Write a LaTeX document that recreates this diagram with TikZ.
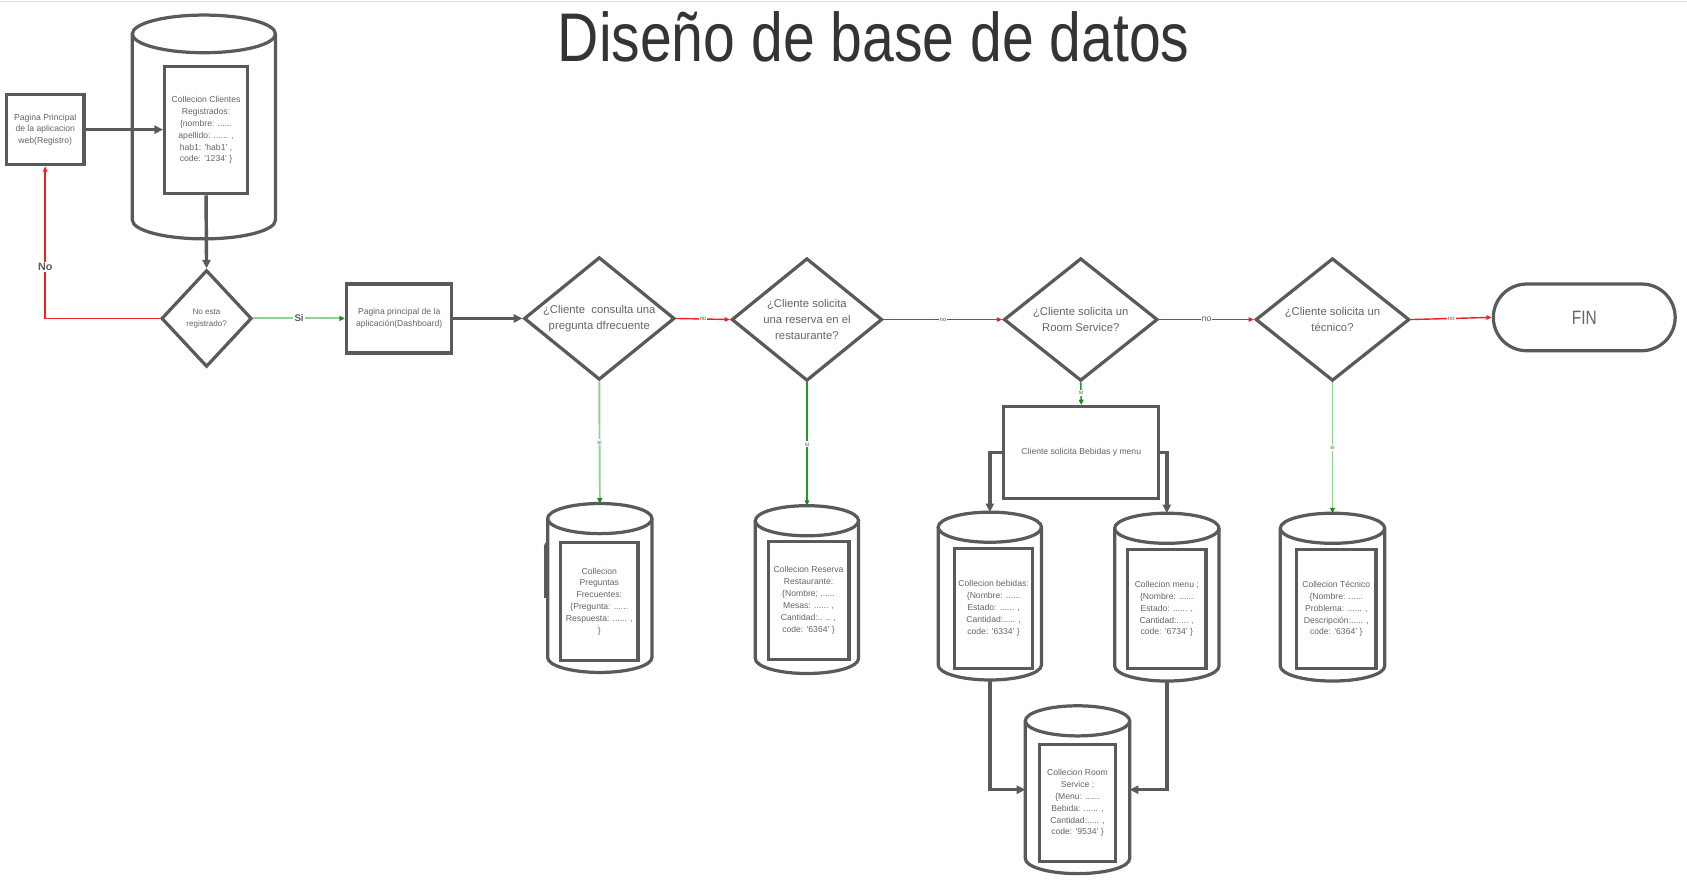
\documentclass[tikz,border=0pt]{standalone}
\usepackage{fontspec}
\setmainfont{Liberation Sans}
\usetikzlibrary{shapes.geometric,arrows.meta}
\definecolor{lg}{HTML}{5A5A5A}
\definecolor{tg}{HTML}{656565}
\definecolor{rl}{HTML}{EE2020}
\definecolor{glight}{HTML}{93D296}
\definecolor{gdark}{HTML}{1E9A28}
\definecolor{ghead}{HTML}{178A20}
\definecolor{ttl}{HTML}{343434}
\tikzset{
  every node/.style={font=\fontsize{8}{11}\selectfont, text=tg, align=center},
  procbox/.style={rectangle, draw=lg, line width=3pt, fill=white, inner sep=1pt},
  decision/.style={diamond, draw=lg, line width=3pt, fill=white, inner sep=0pt, aspect=1.23,
    font=\fontsize{10.5}{14.5}\selectfont},
  smalldecision/.style={diamond, draw=lg, line width=3pt, fill=white, inner sep=0pt, aspect=0.93,
    font=\fontsize{7.5}{10.5}\selectfont},
  endbox/.style={rectangle, rounded corners=31pt, draw=lg, line width=3pt, fill=white},
  cyl/.style={draw=lg, line width=3pt},
  thickarrow/.style={draw=lg, line width=3.2pt, -{Triangle[length=8pt,width=7.5pt]}},
  redarrow/.style={draw=rl, line width=1.3pt, -{Triangle[length=5pt,width=4pt]}},
  lightgreen/.style={draw=glight, line width=1.8pt, -{Triangle[length=5pt,width=4.5pt,fill=ghead,color=ghead]}},
  darkgreen/.style={draw=gdark, line width=1.5pt, -{Triangle[length=5pt,width=4.5pt,fill=ghead,color=ghead]}},
  tinylabel/.style={fill=white, inner sep=0.8pt, font=\fontsize{5.5}{5.5}\selectfont, text=lg},
  midlabel/.style={fill=white, inner sep=0.8pt, font=\fontsize{8}{8}\selectfont, text=lg},
  boldlabel/.style={fill=white, inner sep=1pt, font=\fontsize{10}{10}\bfseries\selectfont, text=lg},
  titletext/.style={font=\fontsize{61}{61}\selectfont, text=ttl}
}
% name, cx, top, bottom, half width, ellipse y radius
\newcommand{\dbcyl}[6]{%
  \draw[cyl] ({#2},{#3+#6}) ellipse [x radius=#5, y radius=#6];
  \draw[cyl] ({#2-#5},{#3+#6}) -- ({#2-#5},{#4-#6})
     .. controls ({#2-#5},{#4-#6+0.5523*#6}) and ({#2-0.5523*#5},{#4}) .. ({#2},{#4})
     .. controls ({#2+0.5523*#5},{#4}) and ({#2+#5},{#4-#6+0.5523*#6}) .. ({#2+#5},{#4-#6})
     -- ({#2+#5},{#3+#6});
  \coordinate (#1-top) at ({#2},{#3});
  \coordinate (#1-bot) at ({#2},{#4});
  \coordinate (#1-w) at ({#2-#5},{(#3+#4)/2});
  \coordinate (#1-e) at ({#2+#5},{(#3+#4)/2});
}
\begin{document}
\begin{tikzpicture}[x=1pt,y=-1pt]
\useasboundingbox (0,0) rectangle (1568,821.6);
\fill[white] (0,0) rectangle (1568,821.6);
\draw[color=black!12, line width=1pt] (0,1) -- (1568,1);

% title
\node[titletext, anchor=base] (title) at (812,57) {\scalebox{0.87}[1.05]{Diseño de base de datos}};

% registration area
\node[procbox, minimum width=72pt, minimum height=65pt] (reg) at (42,120.5)
  {Pagina Principal\\de la aplicacion\\web(Registro)};
\dbcyl{cli}{189.5}{14}{222}{66.5}{17.5}
\node[procbox, minimum width=77pt, minimum height=118pt] (clin) at (191.5,121)
  {Collecion Clientes\\Registrados:\\\{nombre: ......\\apellido: ...... ,\\hab1: 'hab1' ,\\code: '1234' \}};
\node[smalldecision, minimum width=84pt, minimum height=90pt] (d0) at (192,296)
  {No esta\\registrado?};
\node[procbox, minimum width=98pt, minimum height=64pt] (dash) at (371,296)
  {Pagina principal de la\\aplicación(Dashboard)};

% decisions
\node[decision, minimum width=140pt, minimum height=114pt] (d1) at (557,296)
  {¿Cliente\ \ consulta una\\pregunta dfrecuente};
\node[decision, minimum width=140pt, minimum height=114pt] (d2) at (750,297)
  {¿Cliente solicita\\una reserva en el\\restaurante?};
\node[decision, minimum width=143pt, minimum height=114pt] (d3) at (1004.5,297)
  {¿Cliente solicita un\\Room Service?};
\node[decision, minimum width=143pt, minimum height=114pt] (d4) at (1238.5,297)
  {¿Cliente solicita un\\técnico?};
\node[endbox, minimum width=169pt, minimum height=62pt] (fin) at (1472.5,295)
  {\fontsize{18}{18}\selectfont\scalebox{0.8}[1]{FIN}};

% collections
\dbcyl{c1}{557.5}{468}{625}{48.5}{14}
\node[procbox, minimum width=72pt, minimum height=110pt] (c1in) at (557,559)
  {Collecion\\Preguntas\\Frecuentes:\\\{Pregunta: ......\\Respuesta: ...... ,\\\}};
\coordinate (stubA) at (507,556);
\coordinate (stubB) at (507,504);
\draw[draw=lg, line width=2.4pt, -{Triangle[length=4pt,width=3pt]}] (stubA) -- (stubB);

\dbcyl{c2}{750}{470}{626}{48}{14}
\node[procbox, minimum width=75pt, minimum height=110pt] (c2in) at (751.5,558)
  {Collecion Reserva\\Restaurante:\\\{Nombre; ......\\Mesas: ...... ,\\Cantidad:.. .. ,\\code: '6364' \}};

\node[procbox, minimum width=144pt, minimum height=85pt] (bm) at (1005,420.5)
  {Cliente solicita Bebidas y menu};

\dbcyl{c3}{920}{476}{632}{48}{14}
\node[procbox, minimum width=73pt, minimum height=111pt] (c3in) at (923.5,565.5)
  {Collecion bebidas:\\\{Nombre: ......\\Estado: ...... ,\\Cantidad:..... ,\\code: '6334' \}};
\dbcyl{c4}{1084.5}{477}{633}{48.5}{14}
\node[procbox, minimum width=73pt, minimum height=110pt] (c4in) at (1084.5,566)
  {Collecion menu ;\\\{Nombre: ......\\Estado: ...... ,\\Cantidad:..... ,\\code: '6734' \}};
\dbcyl{c5}{1238.5}{477}{633}{48.5}{14}
\node[procbox, minimum width=74pt, minimum height=110pt] (c5in) at (1242,566)
  {Collecion Técnico\\\{Nombre: ......\\Problema: ...... ,\\Descripción:..... ,\\code: '6364' \}};
\dbcyl{c6}{1001.5}{656}{812}{48.5}{14}
\node[procbox, minimum width=71pt, minimum height=109pt] (c6in) at (1001.5,746.5)
  {Collecion Room\\Service ;\\\{Menu: ......\\Bebida: ...... ,\\Cantidad:..... ,\\code: '9534' \}};

% connectors
\draw[thickarrow] (reg.east) -- (reg.east -| clin.west);
\draw[thickarrow] (clin.south) -- (d0.north);
\draw[redarrow] (d0.west) -| (reg.south) node[boldlabel, pos=0.67] {No};
\draw[lightgreen] (d0.east) -- (dash.west) node[boldlabel, midway, font=\fontsize{9}{9}\bfseries\selectfont] {Si};
\draw[thickarrow] (dash.east) -- (d1.west);
\draw[redarrow] (d1.east) -- (d2.west) node[tinylabel, midway] {no};
\draw[redarrow] (d2.east) -- (d3.west) node[tinylabel, midway] {no};
\draw[redarrow] (d3.east) -- (d4.west) node[midlabel, midway] {no};
\draw[redarrow] (d4.east) -- (fin.west) node[tinylabel, midway] {no};
\draw[lightgreen] (d1.south) -- (c1-top) node[tinylabel, midway] {si};
\draw[darkgreen] (d2.south) -- (c2-top) node[tinylabel, midway] {si};
\draw[darkgreen] (d3.south) -- (bm.north) node[tinylabel, pos=0.45] {si};
\draw[lightgreen] (d4.south) -- (c5-top) node[tinylabel, midway] {si};
\draw[thickarrow] (bm.west) -| (c3-top);
\draw[thickarrow] (bm.east) -| (c4-top);
\draw[thickarrow] (c3-bot) |- (c6-w);
\draw[thickarrow] (c4-bot) |- (c6-e);
\end{tikzpicture}
\end{document}
